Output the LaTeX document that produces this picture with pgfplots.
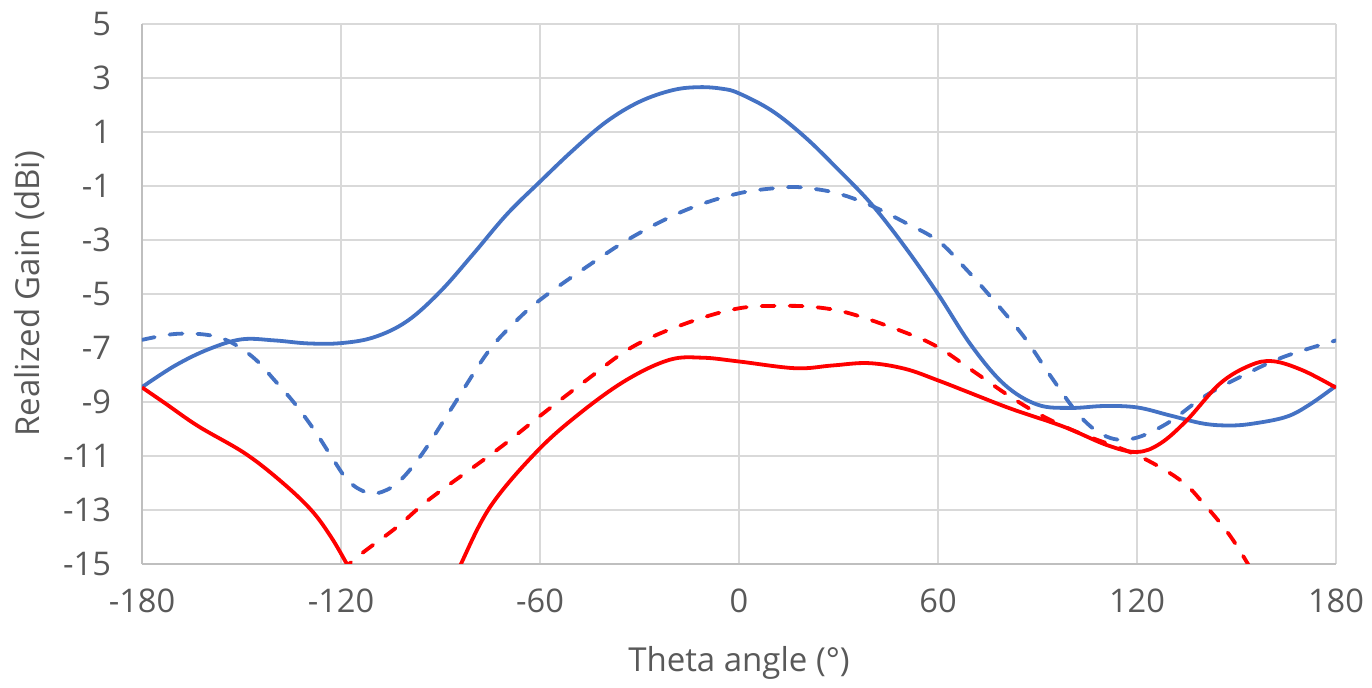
\documentclass[border=0pt]{standalone}
\usepackage{pgfplots}
\pgfplotsset{compat=1.18}
\usepackage{fontspec}
\setmainfont{Open Sans}
\definecolor{myblue}{HTML}{4472C4}
\definecolor{myred}{HTML}{FF0000}
\definecolor{txt}{HTML}{595959}
\definecolor{gridc}{HTML}{D9D9D9}
\definecolor{axc}{HTML}{BFBFBF}
\begin{document}
\begin{tikzpicture}
\useasboundingbox (0,0) rectangle (686pt,344pt);
\begin{axis}[
  at={(71pt,62pt)}, anchor=south west,
  scale only axis, width=597pt, height=270pt,
  xmin=-180, xmax=180, ymin=-15, ymax=5,
  xtick={-180,-120,-60,0,60,120,180},
  xticklabels={-180,-120,-60,0,60,120,180},
  ytick={-15,-13,-11,-9,-7,-5,-3,-1,1,3,5},
  yticklabels={-15,-13,-11,-9,-7,-5,-3,-1,1,3,5},
  grid=major, major grid style={gridc, line width=1pt},
  axis lines*=left, axis line style={-, axc, line width=1pt},
  major tick length=0pt,
  ticklabel style={font=\fontsize{16.3}{18}\selectfont, text=txt},
  xticklabel style={anchor=north, yshift=-9pt},
  yticklabel style={anchor=east, xshift=-12pt},
  xlabel={Theta angle (°)}, ylabel={Realized Gain (dBi)},
  label style={font=\fontsize{16.5}{19}\selectfont, text=txt},
  xlabel style={at={(axis description cs:0.5,-0.183)}, anchor=center},
  ylabel style={at={(axis description cs:-0.094,0.5)}, anchor=center},
  clip=true,
  every axis plot/.append style={line width=1.9pt, smooth, tension=0.6},
  dsh/.style={line cap=round, dash pattern=on 6.5pt off 7.5pt},
]
% blue solid
\addplot[myblue] coordinates {
(-180,-8.45) (-170,-7.65) (-160,-7.05) (-150,-6.68) (-140,-6.72) (-130,-6.83) (-120,-6.82) (-110,-6.6) (-100,-6.0) (-90,-4.9) (-80,-3.5) (-70,-2.05) (-60,-0.84) (-50,0.33) (-40,1.38) (-30,2.12) (-20,2.55) (-12,2.66) (-5,2.6) (0,2.43) (10,1.78) (20,0.8) (30,-0.4) (40,-1.68) (50,-3.25) (60,-5.0) (70,-6.9) (80,-8.35) (90,-9.1) (100,-9.22) (110,-9.15) (120,-9.2) (130,-9.5) (140,-9.8) (148,-9.87) (155,-9.8) (165,-9.55) (172,-9.1) (180,-8.4)
};
% blue dashed
\addplot[myblue, dsh] coordinates {
(-180,-6.7) (-170,-6.48) (-160,-6.52) (-153,-6.8) (-146,-7.4) (-140,-8.2) (-134,-9.05) (-128,-10.05) (-123,-11.0) (-118,-11.9) (-113,-12.32) (-109,-12.38) (-103,-12.0) (-96,-11.0) (-87,-9.3) (-76,-7.2) (-68,-6.1) (-60,-5.22) (-46,-4.0) (-32,-2.88) (-16,-1.89) (0,-1.27) (14,-1.05) (20,-1.07) (29,-1.25) (39,-1.68) (50,-2.35) (60,-3.03) (68,-4.02) (76,-5.12) (86,-6.6) (94,-8.05) (103,-9.55) (111,-10.29) (119,-10.35) (129,-9.8) (140,-8.82) (151,-8.08) (164,-7.34) (180,-6.72)
};
% red solid (two visible pieces)
\addplot[myred] coordinates {
(-180,-8.46) (-173,-9.05) (-163,-9.9) (-149,-10.9) (-138,-11.95) (-129,-13.0) (-123,-14.0) (-118,-15.05) (-116,-15.5)
};
\addplot[myred] coordinates {
(-86,-15.6) (-84,-15.04) (-75,-12.88) (-61,-10.84) (-48,-9.42) (-34,-8.19) (-21,-7.44) (-11,-7.36) (0,-7.5) (17,-7.75) (28,-7.65) (39,-7.56) (50,-7.77) (60,-8.2) (69,-8.63) (82,-9.25) (98,-9.92) (111,-10.6) (120,-10.85) (127,-10.54) (135,-9.68) (145,-8.32) (154,-7.65) (161,-7.49) (170,-7.83) (180,-8.47)
};
% red dashed
\addplot[myred, dsh] coordinates {
(-120,-15.24) (-118,-15.04) (-113,-14.54) (-103,-13.62) (-93,-12.57) (-73,-10.78) (-59,-9.42) (-46,-8.19) (-32,-6.95) (-16,-6.09) (0,-5.53) (14,-5.44) (24,-5.5) (34,-5.74) (50,-6.42) (60,-6.97) (71,-7.89) (82,-8.82) (92,-9.55) (103,-10.17) (120,-10.97) (133,-11.89) (140,-12.75) (147.5,-13.86) (153.3,-14.97) (156,-15.6)
};
\end{axis}
\end{tikzpicture}
\end{document}
